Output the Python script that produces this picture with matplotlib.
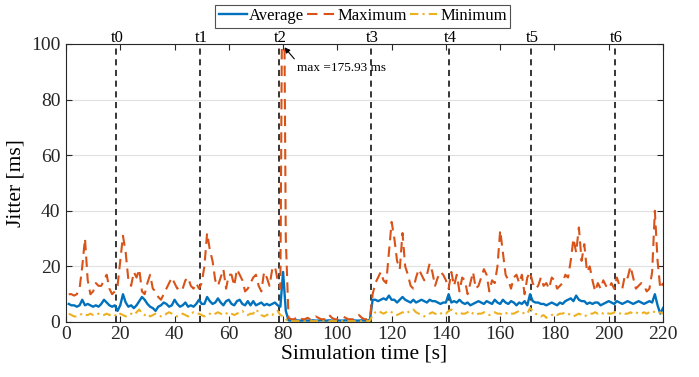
import matplotlib
matplotlib.use("Agg")
import matplotlib.pyplot as plt
import numpy as np

plt.rcParams['font.family'] = ['Liberation Serif', 'DejaVu Serif']
plt.rcParams['mathtext.fontset'] = 'stix'

# time axis (s)
time = list(range(1, 221))

avg = ([6.5,6,6,5.5,6,8,6,6.5,6,5.5,6,5.5,6.5,8,7,6,5.5,6]
       + [4,6,10,7,5.5,6,5,6,7.5,9,8,6.5,5.5,5,4,5.5,6,7,6.5,5.5,6,8,6.5,5.5,6,7,5.5,6,5.5,6.5]
       + [8,6.5,6.5,9,7.5,6.5,7,8.5,7,6,7.5,8,6.5,6,7.5,8,6.5,6,7.5,6,7.5,6,6.5,7,6,6.5,6,6.5,7,6,5.5]
       + [18,4]
       + [0.6,0.5,0.5,0.6,0.5,0.5,0.6,0.5,0.5,0.6,0.5,0.5,0.6,0.5,0.5,0.6,0.5,0.5,0.6,0.5,0.5,0.6,0.5,0.5,0.6,0.5,0.5,0.6,0.5,0.5,0.8]
       + [8,8,7.5,8,8.5,8,9.5,8,8,7,8,9,8,7.5,7,8,7,7.5,8,7.5,7,8,7.5,7.5,7,6.5,7,7]
       + [10,7,7.5,7,8,7,6.5,7,6,6.5,7,7.5,7,6.5,7.5,7,6.5,8,7,6.5,8,7,6.5,7.5,7,6,7,6.5,7.5,6]
       + [10,7.5,7,7,6.5,6.5,6,6.5,7,6.5,6,7,6.5,7.5,8,8.5,7.5,9.5,8,7.5,7.5,6.5,7,6.5,7,7,6,6.5,7,7.5]
       + [7,6.5,7.5,7,6.5,7,7.5,7,6.5,7,7.5,7,6.5,7,7.5,7,10,6,3,5])

mx = ([10,10,9.5,10,12,20,30,15,10,11,14,13,13,15,17,12,10,11]
      + [13,22,31,25,15,13,18,16,19,11,10,14,17,12,11,9,8,10,12,14,16,14,12,13,12,15,16,13,12,14]
      + [12,14,20,32,26,22,15,13,16,19,12,17,17,13,19,17,15,11,12,14,16,17,13,11,18,16,13,19,20,15,12]
      + [175.93,30]
      + [1.5,1,1,1.5,2,1,1,1.5,1,1,2,1.5,1,1,1,2.5,1.5,1,1,1.5,2,1.5,1,1,1,1.5,2.5,1.5,1,1,1.5]
      + [10,14,16,18,15,14,25,36,30,22,19,32,20,17,13,12,16,19,17,15,17,21,18,13,16,18,17,15]
      + [12,18,13,17,11,16,15,10,14,18,12,13,16,19,17,11,15,14,20,33,25,17,15,12,16,17,14,17,10,16]
      + [18,14,12,13,16,13,14,12,16,15,12,13,14,17,16,22,30,25,34,22,28,18,20,15,11,14,12,15,13,12]
      + [14,12,16,13,12,17,16,20,16,12,13,14,13,11,12,18,40,22,12,14])

mn = ([3,2.5,2,2,2.5,3,2.5,2.5,3,2.5,2.5,3,2.5,2.5,3,2.5,3,2.5]
      + [2,3,2.5,2,2.5,3,2.5,3.5,4.5,3,2.5,3,2,2.5,3,2.5,2,2,3,3.5,3,2.5,2,2.5,3,2.5,2,3,3.5,3]
      + [3,2.5,2,2.5,3,2.5,3,3.5,3,2.5,3,3.5,3,2.5,3,3.5,4,3,2.5,3,3,4.5,3.5,2.5,2,2.5,3,2.5,3.5,4,2.5]
      + [2,1]
      + [0.3,0.3,0.3,0.3,0.3,0.3,0.3,0.3,0.3,0.3,0.3,0.3,0.3,0.3,0.3,0.3,0.3,0.3,0.3,0.3,0.3,0.3,0.3,0.3,0.3,0.3,0.3,0.3,0.3,0.3,0.5]
      + [2.5,3.5,4,3.5,3,3.5,4,3.5,3,2.5,3,3.5,3,3.5,4,4.5,3.5,3,2.5,2,2.5,3,3.5,3,2.5,3,3.5,3]
      + [4,4.5,3.5,3,3.5,3,3,3.5,4,3,2.5,3,3,3.5,3,2.5,3,3.5,3,3,2.5,3,3.5,3,3,3.5,4,3.5,3,3]
      + [5,4,3,2.5,2,2.5,1.5,2,2.5,3,2.5,3,3,3.5,3,2.5,2,2.5,3,2.5,2,2.5,3,3,3.5,3,3.5,3,3.5,3]
      + [3,3.5,3,3,3.5,3,3,3.5,3,3.5,3,3,3.5,3,3.5,4,3.5,3,3.5,3])

event_times = [18.4, 49.4, 78.5, 112.4, 141.1, 171.3, 202.3]
event_labels = ['t0', 't1', 't2', 't3', 't4', 't5', 't6']

peak_time = 80
peak_value = 175.93

fig = plt.figure(figsize=(6.99, 3.77), dpi=100)
ax = fig.add_axes([0.0944, 0.1459, 0.8541, 0.7374])

c_avg = '#0072BD'
c_max = '#D95319'
c_min = '#EDB120'

ax.plot(time, avg, color=c_avg, lw=1.7, label='Average')
ax.plot(time, mx, color=c_max, lw=1.5, ls=(0, (5, 3)), label='Maximum')
ax.plot(time, mn, color=c_min, lw=1.5, ls=(0, (4, 2, 1, 2)), label='Minimum')

for t, lab in zip(event_times, event_labels):
    ax.axvline(t, color='black', ls=(0, (4, 3)), lw=1.1, zorder=1)
    ax.text(t + 0.5, 99.3, lab, ha='center', va='bottom', fontsize=12)

ax.annotate('max =175.93 ms', xy=(peak_time + 0.5, 98.8), xytext=(85.0, 91.5),
            fontsize=9.5, va='center', ha='left',
            arrowprops=dict(arrowstyle='-|>', color='black', lw=0.8,
                            mutation_scale=8, shrinkA=0, shrinkB=0,
                            relpos=(0.0, 1.0)))

ax.set_xlim(0, 220)
ax.set_ylim(0, 100)
ax.set_xticks(range(0, 221, 20))
ax.set_yticks(range(0, 101, 20))
ax.tick_params(direction='in', top=True, right=True, labelsize=14, length=4,
               color='#262626', labelcolor='#262626')
ax.tick_params(axis='x', pad=3)
ax.tick_params(axis='y', pad=4)
ax.yaxis.grid(True, color='#e0e0e0', lw=0.8)
ax.set_axisbelow(True)
for s in ax.spines.values():
    s.set_color('#262626')
    s.set_linewidth(0.8)

ax.set_xlabel('Simulation time [s]', fontsize=15.5, labelpad=1)
ax.set_ylabel('Jitter [ms]', fontsize=15.5, labelpad=4)

leg = fig.legend(loc='upper center', bbox_to_anchor=(0.519, 0.987), ncol=3,
                 fontsize=12, frameon=True, fancybox=False, edgecolor='#262626',
                 handlelength=1.7, handletextpad=0.1, columnspacing=0.2,
                 borderpad=0.2, borderaxespad=0)
leg.get_frame().set_linewidth(0.8)

fig.savefig('out.png', dpi=100)
